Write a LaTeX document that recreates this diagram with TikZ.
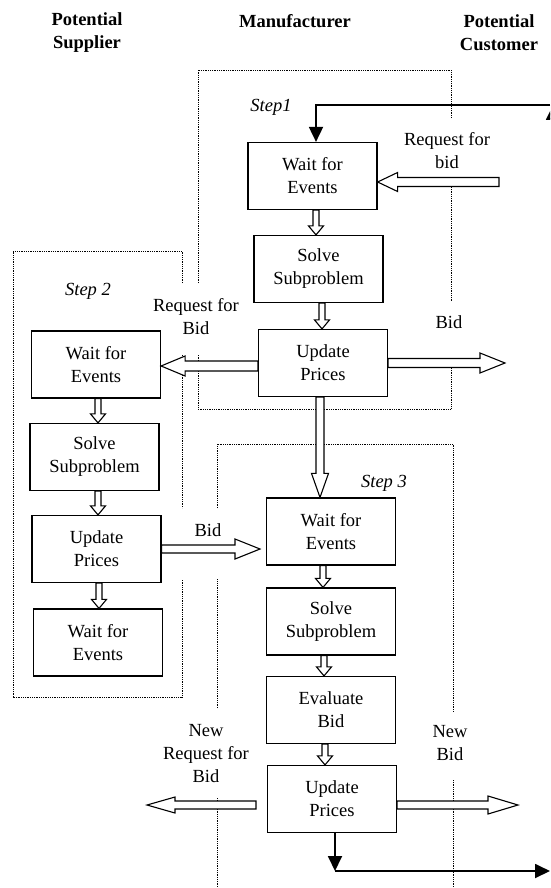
\documentclass[tikz,border=0pt]{standalone}
\usepackage{fontspec}
\setmainfont{Liberation Serif}
\usetikzlibrary{arrows.meta,calc}

\tikzset{
  event/.style={draw, line width=1.2pt, minimum width=129pt, minimum height=67pt,
    inner sep=2pt, align=center, font=\fontsize{18.5}{23}\selectfont},
  side/.style={align=center, inner sep=1pt, font=\fontsize{18.5}{23}\selectfont},
  party/.style={align=center, inner sep=1pt, font=\bfseries\fontsize{18.5}{23}\selectfont},
  steplabel/.style={inner sep=1pt, font=\itshape\fontsize{18.5}{22}\selectfont},
  region/.style={line width=0.9pt, dash pattern=on 0.9pt off 0.9pt},
  flow/.style={line width=1.8pt, -{Triangle[length=15pt,width=14pt]}},
}

% hollow block arrow: tail, tip, half shaft, half head, head length
\newcommand{\fatarrow}[5]{%
  \coordinate (fa-t) at (#1);
  \coordinate (fa-p) at (#2);
  \coordinate (fa-h) at ($(fa-p)!#5!(fa-t)$);
  \draw[line width=1.1pt, fill=white, line join=miter]
    ($(fa-t)!#3!90:(fa-p)$) -- ($(fa-h)!#3!90:(fa-p)$) -- ($(fa-h)!#4!90:(fa-p)$)
    -- (fa-p) -- ($(fa-h)!#4!-90:(fa-p)$) -- ($(fa-h)!#3!-90:(fa-p)$)
    -- ($(fa-t)!#3!-90:(fa-p)$) -- cycle;
}
% small arrow from one box down to the next
\newcommand{\downstep}[3]{%
  \fatarrow{#3,0 |- #1.south}{#3,0 |- #2.north}{3pt}{7.5pt}{9pt}}

\begin{document}
\begin{tikzpicture}[x=1pt,y=1pt]
  \useasboundingbox (0,0) rectangle (550,-888);
  \clip (0,0) rectangle (550,-888);

  % the three parties
  \node[party] (sup) at (87,-33) {Potential\\Supplier};
  \node[party] (man) at (295,-21) {Manufacturer};
  \node[party] (cus) at (499,-33) {Potential\\Customer};

  % dotted regions, broken where labels sit
  \draw[region] (198,-283) -- (198,-70) -- (451,-70) -- (451,-118);
  \draw[region] (451,-187) -- (451,-302);
  \draw[region] (451,-368) -- (451,-409) -- (198,-409) -- (198,-355);
  \draw[region] (182,-283) -- (182,-251) -- (13,-251) -- (13,-697) -- (182,-697) -- (182,-579);
  \draw[region] (182,-355) -- (182,-508);
  \draw[region] (217,-708) -- (217,-579);
  \draw[region] (217,-508) -- (217,-444) -- (453,-444) -- (453,-712);
  \draw[region] (453,-780) -- (453,-888);
  \draw[region] (217,-798) -- (217,-888);

  % step 1
  \node[steplabel] (st1) at (271,-107) {Step1};
  \node[event] (w1) at (312.5,-176) {Wait for\\Events};
  \node[event] (s1) at (318.5,-269) {Solve\\Subproblem};
  \node[event] (u1) at (323,-363) {Update\\Prices};

  % step 2
  \node[steplabel] (st2) at (88,-291) {Step 2};
  \node[event] (w2) at (96,-364.5) {Wait for\\Events};
  \node[event] (s2) at (94.5,-457) {Solve\\Subproblem};
  \node[event] (u2) at (96.5,-549) {Update\\Prices};
  \node[event] (w2b) at (98,-642.5) {Wait for\\Events};

  % step 3
  \node[steplabel] (st3) at (384,-483) {Step 3};
  \node[event] (w3) at (331,-531.5) {Wait for\\Events};
  \node[event] (s3) at (331,-621.5) {Solve\\Subproblem};
  \node[event] (e3) at (331,-710) {Evaluate\\Bid};
  \node[event] (u3) at (332,-799) {Update\\Prices};

  % message labels
  \node[side] (rq1) at (447,-151) {Request for\\bid};
  \node[side] (bid1) at (449,-322) {Bid};
  \node[side] (rq2) at (196,-317) {Request for\\Bid};
  \node[side] (bid2) at (208,-530) {Bid};
  \node[side] (rq3) at (206,-754) {New\\Request for\\Bid};
  \node[side] (bid3) at (450,-743) {New\\Bid};

  % flow inside each step
  \downstep{w1}{s1}{316}
  \downstep{s1}{u1}{322}
  \downstep{w2}{s2}{98}
  \downstep{s2}{u2}{98}
  \downstep{u2}{w2b}{99}
  \downstep{w3}{s3}{323}
  \downstep{s3}{e3}{324}
  \downstep{e3}{u3}{325}
  \fatarrow{320,0 |- u1.south}{320,0 |- w3.north}{4pt}{8.5pt}{24pt}

  % messages
  \coordinate (rfb) at (499,-182);
  \fatarrow{rfb}{w1.east |- rfb}{4.5pt}{9.5pt}{20pt}
  \fatarrow{u1.west |- 0,-366}{w2.east |- 0,-366}{5pt}{10pt}{24pt}
  \coordinate (bidout) at (505,-363);
  \fatarrow{u1.east |- bidout}{bidout}{4.5pt}{10pt}{25pt}
  \coordinate (bidin) at (260,-549);
  \fatarrow{u2.east |- bidin}{bidin}{4pt}{10pt}{25pt}
  \coordinate (nrtail) at (256,-805);
  \coordinate (nrtip) at (147,-805);
  \fatarrow{nrtail}{nrtip}{4pt}{8pt}{28pt}
  \coordinate (nbtip) at (518,-805);
  \fatarrow{u3.east |- nbtip}{nbtip}{4pt}{9pt}{30pt}

  % loop back to step 1
  \coordinate (cin) at (550,-105);
  \coordinate (cturn) at (316,-105);
  \draw[flow] (cin) -- (cturn) -- (cturn |- w1.north);
  \coordinate (cup) at (553,-130);
  \draw[flow] (cup) -- (cup |- cin);
  \coordinate (cdown) at (335,-871);
  \coordinate (cout) at (550,-871);
  \draw[flow] (u3.south -| cdown) -- (cdown);
  \draw[flow] (cdown) -- (cout);
\end{tikzpicture}
\end{document}
